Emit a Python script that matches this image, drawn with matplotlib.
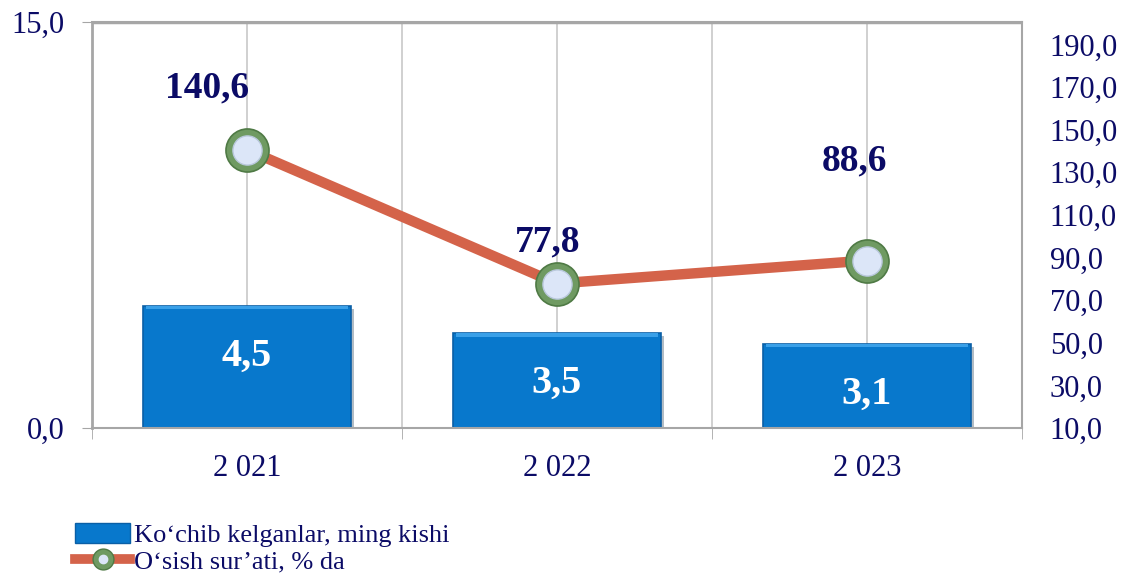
import numpy as np
import matplotlib.pyplot as plt
from matplotlib.patches import Patch
from matplotlib.lines import Line2D
from matplotlib.legend_handler import HandlerTuple
import matplotlib.patheffects as pe

plt.rcParams['font.family'] = ['Liberation Serif', 'DejaVu Serif']

# Dados
anos = ['2 021', '2 022', '2 023']
kochib = [4.5, 3.5, 3.1]           # Ko‘chib kelganlar, ming kishi
osish = [140.6, 77.8, 88.6]        # O‘sish sur’ati, % da
kochib_txt = ['4,5', '3,5', '3,1']
osish_txt = ['140,6', '77,8', '88,6']
osish_off = [(-40, 62), (-9, 42), (-12, 100)]   # deslocamento dos rótulos (px)

navy = '#0B0B66'
azul = '#0878CC'
laranja = '#D4634A'
verde = '#6F9A62'
cinza = '#A6A6A6'

fig = plt.figure(figsize=(11.26, 5.73), dpi=100)
ax = fig.add_axes([0.0817, 0.253, 0.9076 - 0.0817, 0.9616 - 0.253])
x = np.arange(len(anos))

barras = ax.bar(x, kochib, width=0.67, color=azul, edgecolor='#0A5FA6',
                linewidth=1.2, zorder=2)
for b in barras:
    b.set_path_effects([pe.SimplePatchShadow(offset=(2, -2), alpha=0.3), pe.Normal()])
# faixa clara no topo (efeito de bisel)
ax.bar(x, [0.12] * 3, bottom=np.array(kochib) - 0.12, width=0.65,
       color='#3AA0E8', linewidth=0, zorder=2.5)
for xi, v, t in zip(x, kochib, kochib_txt):
    ax.annotate(t, xy=(xi, v), xytext=(0, -50), textcoords='offset pixels',
                ha='center', va='center', color='white',
                fontsize=29, fontweight='bold', zorder=3)

ax.set_xlim(-0.5, 2.5)
ax.set_ylim(0, 15)
ax.set_yticks([0, 15])
ax.set_yticklabels(['0,0', '15,0'])
ax.set_xticks(x)
ax.set_xticklabels(anos)
ax.set_xticks([-0.5, 0.5, 1.5, 2.5], minor=True)
ax.tick_params(axis='x', which='major', direction='in', length=5, color=cinza,
               labelsize=22, labelcolor=navy, pad=19)
ax.tick_params(axis='x', which='minor', direction='out', length=8, color=cinza)
ax.tick_params(axis='y', direction='out', length=7, color=cinza,
               labelsize=22, labelcolor=navy, pad=13)
ax.grid(True, axis='x', which='both', color='#C8C8C8', linewidth=1.2, zorder=0)
ax.axhline(15, color=cinza, linewidth=2.5, zorder=1)
for s in ['left', 'bottom', 'right', 'top']:
    ax.spines[s].set_color(cinza)
    ax.spines[s].set_linewidth(1.5)
ax.spines['left'].set_linewidth(2)
ax.set_axisbelow(True)

ax2 = ax.twinx()
ax2.set_ylim(10, 200.5)
ax2.set_yticks(np.arange(10, 200, 20))
ax2.set_yticklabels([f'{v:.1f}'.replace('.', ',') for v in np.arange(10, 200, 20)])
ax2.tick_params(axis='y', length=0, labelsize=22, labelcolor=navy, pad=20)
for s in ax2.spines.values():
    s.set_visible(False)

ax2.plot(x, osish, color=laranja, linewidth=7.5, solid_capstyle='butt', zorder=3)
ax2.plot(x, osish, 'o', markersize=31, markerfacecolor=verde,
         markeredgecolor='#4F7A45', markeredgewidth=1.2, linestyle='none', zorder=4)
ax2.plot(x, osish, 'o', markersize=21, markerfacecolor='#DCE6F8',
         markeredgecolor='#B9C8DC', markeredgewidth=1, linestyle='none', zorder=5)
for xi, v, t, off in zip(x, osish, osish_txt, osish_off):
    ax2.annotate(t, xy=(xi, v), xytext=off, textcoords='offset pixels',
                 ha='center', va='center', fontsize=27, fontweight='bold',
                 color=navy, zorder=6)

h_bar = Patch(facecolor=azul, edgecolor='#0A5FA6')
h_lin = Line2D([], [], color=laranja, linewidth=7)
h_m1 = Line2D([], [], marker='o', markersize=15, markerfacecolor=verde,
              markeredgecolor='#4F7A45', linestyle='none')
h_m2 = Line2D([], [], marker='o', markersize=6, markerfacecolor='#DCE6F8',
              markeredgecolor='#DCE6F8', linestyle='none')
fig.legend([h_bar, (h_lin, h_m1, h_m2)],
           ['Ko‘chib kelganlar, ming kishi', 'O‘sish sur’ati, % da'],
           handler_map={tuple: HandlerTuple(ndivide=1)},
           loc='upper left', bbox_to_anchor=(0.0666, 0.088), frameon=False,
           fontsize=19, labelcolor=navy, handlelength=2.1, handleheight=0.8,
           handletextpad=0.15, labelspacing=0.1, borderpad=0, borderaxespad=0)

fig.savefig('out.png', dpi=100)
